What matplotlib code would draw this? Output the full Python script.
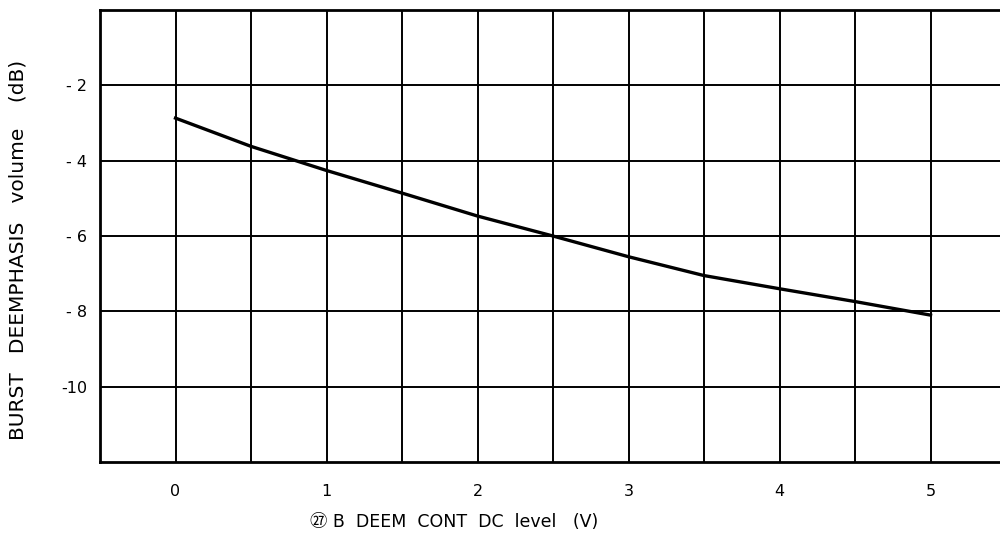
import numpy as np
import matplotlib
matplotlib.use("Agg")
import matplotlib.pyplot as plt

plt.rcParams['font.family'] = ['DejaVu Sans', 'Noto Sans CJK JP']

# control voltage (V) vs burst deemphasis volume (dB)
dc_level = [0, 0.5, 1, 1.5, 2, 2.5, 3, 3.5, 4, 4.5, 5]
volume_db = [-2.87, -3.62, -4.26, -4.86, -5.47, -6.0, -6.55, -7.05, -7.40, -7.74, -8.1]

x_ticks = [0, 1, 2, 3, 4, 5]
y_ticks = [-2, -4, -6, -8, -10]
y_tick_labels = ["- 2", "- 4", "- 6", "- 8", "-10"]

fig = plt.figure(figsize=(10, 5.35), dpi=100)
ax = fig.add_axes([0.1, 0.1364, 0.9, 0.8449])

# grid every 0.5 V and every 2 dB
for xv in np.arange(0, 5.5, 0.5):
    ax.axvline(xv, color="black", linewidth=1.4, zorder=1)
for yv in y_ticks:
    ax.axhline(yv, color="black", linewidth=1.4, zorder=1)

ax.plot(dc_level, volume_db, color="black", linewidth=2.4, zorder=3)

ax.set_xlim(-0.5, 5.46)
ax.set_ylim(-12, 0)
ax.set_xticks(x_ticks)
ax.set_yticks(y_ticks)
ax.set_yticklabels(y_tick_labels)
ax.tick_params(length=0, labelsize=11.5)
ax.tick_params(axis="x", pad=16)
ax.tick_params(axis="y", pad=9)

for side in ["left", "bottom", "top"]:
    ax.spines[side].set_linewidth(2)
ax.spines["right"].set_visible(False)

ax.set_xlabel("㉗ B  DEEM  CONT  DC  level   (V)", fontsize=12.5)
ax.set_ylabel("BURST   DEEMPHASIS   volume    (dB)", fontsize=14.5)
ax.xaxis.set_label_coords(0.394, -0.112)
ax.yaxis.set_label_coords(-0.081, 0.469)

fig.savefig("out.png", dpi=100)
